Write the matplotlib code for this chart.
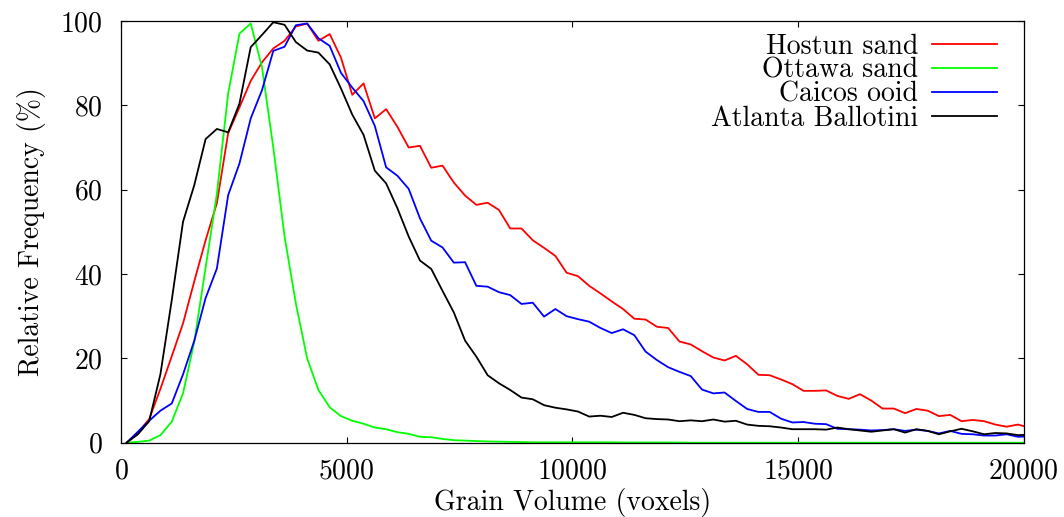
import numpy as np
import matplotlib
matplotlib.use("Agg")
import matplotlib.pyplot as plt

# grain volume bins: centres of 250-voxel bins (last one sits just past 20000, clipped)
volume = np.arange(125, 20126, 250)

hostun = [0, 2.4, 5.6, 12.8, 20.5, 28.3, 38.3, 48.0, 56.8, 73.4,
          79.5, 85.8, 90.2, 93.5, 95.3, 98.7, 99.4, 95.3, 96.9, 91.3,
          82.5, 85.2, 76.9, 79.1, 74.9, 70.0, 70.4, 65.2, 65.7, 61.7,
          58.6, 56.4, 56.9, 55.2, 50.8, 50.8, 48.0, 46.2, 44.3, 40.3,
          39.5, 37.2, 35.4, 33.5, 31.7, 29.4, 29.2, 27.5, 27.2, 24.0,
          23.3, 21.7, 20.2, 19.5, 20.6, 18.6, 16.1, 16.0, 15.0, 13.9,
          12.3, 12.3, 12.4, 11.1, 10.4, 11.5, 10.0, 8.1, 8.1, 7.0,
          8.0, 7.6, 6.3, 6.6, 5.1, 5.4, 5.1, 4.3, 3.8, 4.3, 3.6]

ottawa = [0, 0.2, 0.5, 1.8, 5.0, 11.7, 24.0, 41.5, 59.0, 82.8,
          97.0, 99.4, 89.0, 70.0, 48.9, 33.0, 20.0, 12.5, 8.4, 6.3,
          5.2, 4.5, 3.6, 3.2, 2.5, 2.1, 1.4, 1.3, 0.9, 0.6,
          0.5, 0.4, 0.3, 0.25, 0.2, 0.15, 0.1, 0.1, 0.1, 0.1,
          0.1, 0.1, 0.1, 0.1, 0.05, 0.05, 0.05, 0.05, 0.05, 0.05,
          0, 0, 0, 0, 0, 0, 0, 0, 0, 0,
          0, 0, 0, 0, 0, 0, 0, 0, 0, 0,
          0, 0, 0, 0, 0, 0, 0, 0, 0, 0, 0]

caicos = [0, 2.6, 5.2, 7.6, 9.3, 16.2, 24.2, 34.3, 41.3, 58.7,
          66.2, 76.9, 83.6, 92.9, 93.9, 99.0, 99.4, 95.9, 94.1, 87.7,
          84.2, 81.0, 75.1, 65.3, 63.3, 60.2, 53.2, 47.9, 46.3, 42.7,
          42.8, 37.2, 37.0, 35.7, 35.0, 32.9, 33.2, 29.9, 31.7, 30.0,
          29.3, 28.7, 27.2, 26.0, 26.9, 25.5, 21.6, 19.6, 17.9, 16.8,
          15.8, 12.6, 11.7, 11.9, 9.9, 8.0, 7.3, 7.3, 5.7, 4.8,
          4.9, 4.5, 4.4, 3.3, 3.2, 3.1, 2.9, 3.0, 3.2, 2.8,
          3.1, 2.8, 2.2, 2.8, 2.1, 2.0, 1.7, 1.7, 2.0, 1.4, 1.5]

atlanta = [0, 2.0, 5.1, 16.3, 33.8, 52.4, 61.1, 72.0, 74.4, 73.6,
           80.4, 93.8, 96.7, 99.7, 99.1, 95.0, 93.0, 92.5, 89.7, 84.0,
           77.8, 73.0, 64.5, 61.5, 55.6, 48.9, 43.2, 41.2, 36.0, 30.9,
           24.2, 20.4, 16.0, 14.1, 12.5, 10.7, 10.3, 8.9, 8.3, 7.9,
           7.4, 6.2, 6.4, 6.1, 7.1, 6.6, 5.8, 5.6, 5.5, 5.1,
           5.3, 5.1, 5.5, 5.0, 5.2, 4.3, 4.0, 3.9, 3.6, 3.2,
           3.2, 3.2, 3.1, 3.6, 3.2, 2.9, 2.6, 2.9, 3.2, 2.4,
           3.2, 2.8, 2.0, 2.7, 3.3, 2.7, 2.0, 2.3, 2.2, 1.8, 1.9]

labels = ["Hostun sand", "Ottawa sand", "Caicos ooid", "Atlanta Ballotini"]
colors = ["#ff0000", "#00ff00", "#0000ff", "#000000"]

plt.rcParams["font.family"] = ["cmr10", "DejaVu Serif"]
plt.rcParams["axes.formatter.use_mathtext"] = True
plt.rcParams["font.size"] = 20

fig = plt.figure(figsize=(10.64, 5.17), dpi=100)
ax = fig.add_axes([0.1137, 0.1437, 0.8483, 0.8157])

for series, lab, col in zip([hostun, ottawa, caicos, atlanta], labels, colors):
    ax.plot(volume, series, color=col, lw=1.3, label=lab)

ax.set_xlim(0, 20000)
ax.set_ylim(0, 100)
ax.set_xticks([0, 5000, 10000, 15000, 20000])
ax.set_yticks([0, 20, 40, 60, 80, 100])
ax.tick_params(direction="in", top=True, right=True, length=4.5, width=0.8)
ax.tick_params(axis="x", pad=11)
ax.tick_params(axis="y", pad=13)
for s in ax.spines.values():
    s.set_linewidth(0.9)

ax.set_xlabel("Grain Volume (voxels)", labelpad=3)
ax.set_ylabel("Relative Frequency (%)", labelpad=10)

ax.legend(loc="upper right", bbox_to_anchor=(0.971, 0.971), frameon=False,
          markerfirst=False, handlelength=2.35, handletextpad=0.5,
          labelspacing=-0.08, borderaxespad=0, borderpad=0, fontsize=20)

fig.savefig("out.png", dpi=100)
